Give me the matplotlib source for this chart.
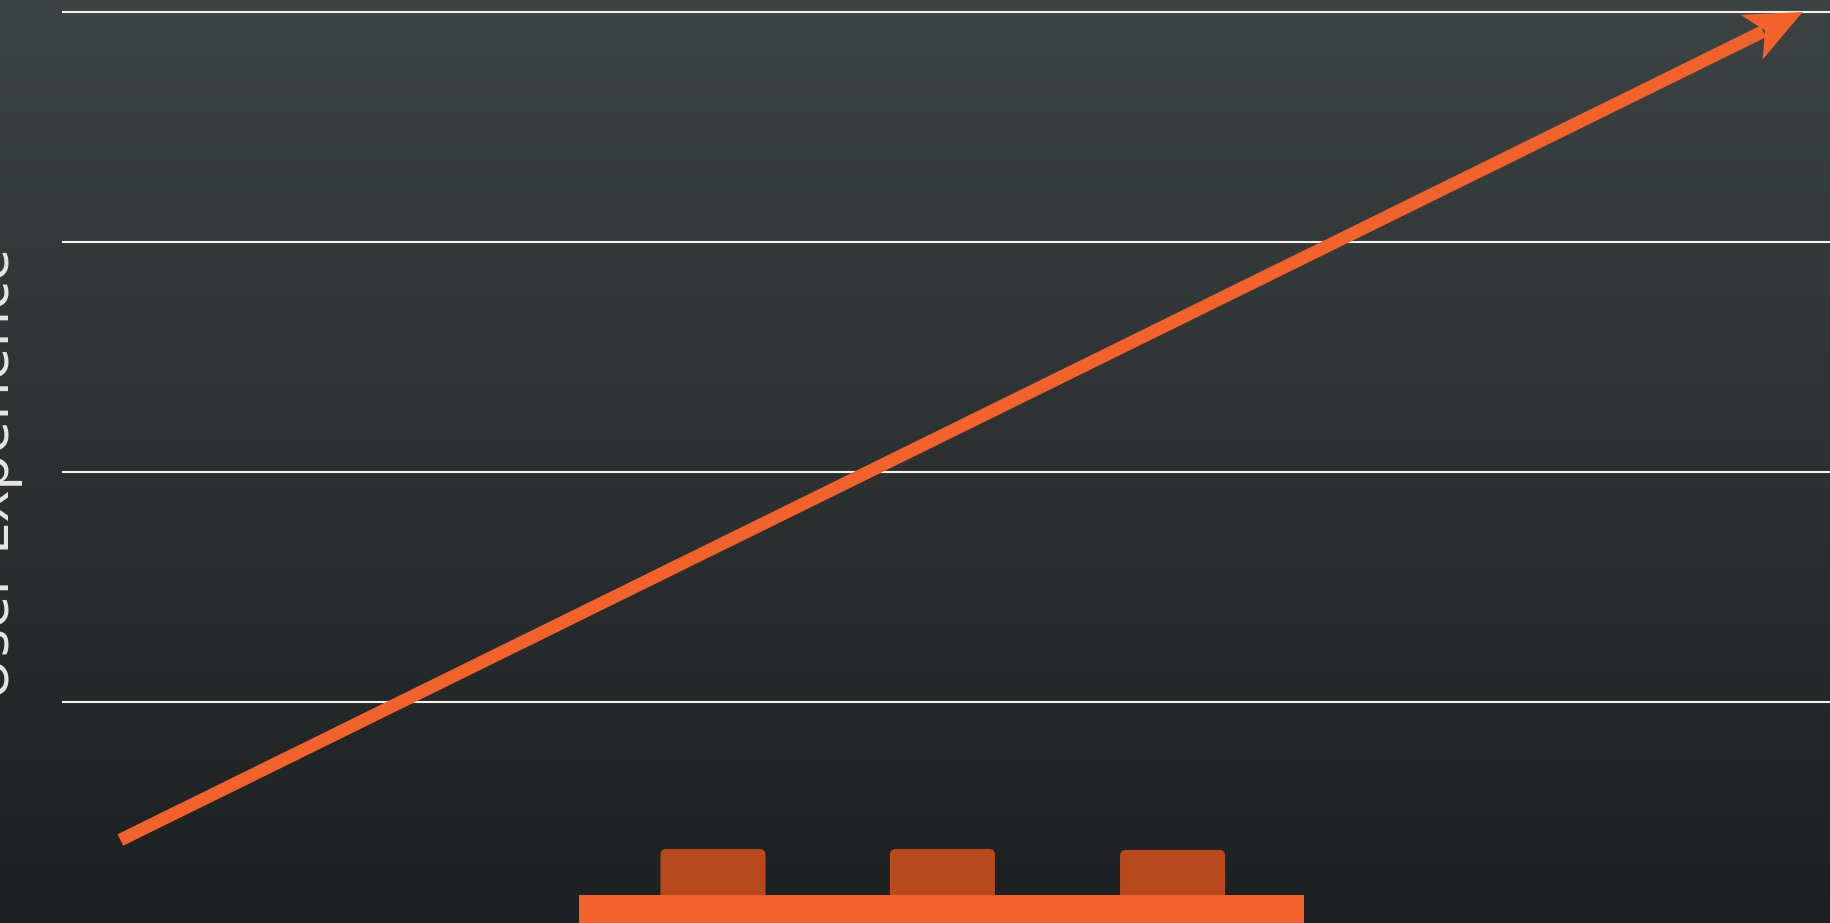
import numpy as np
import matplotlib
matplotlib.use("Agg")
import matplotlib.pyplot as plt
from matplotlib.patches import Polygon, FancyBboxPatch

# ---- data ----
grid_levels = [1, 2, 3, 4]
trend_x = [3.3, 98.4]
trend_y = [0.4, 4.0]
base_x = [29.25, 70.2]
base_top = 0.16
brick_centers = [36.8, 49.77, 62.78]
brick_tops = [0.361, 0.361, 0.357]
brick_width = 5.94
y_label = "User Experience"

W, H = 1831, 923
fig = plt.figure(figsize=(W / 100, H / 100), dpi=100)

# background gradient
bg = fig.add_axes([0, 0, 1, 1])
bg.axis("off")
top = np.array([61, 66, 66]) / 255
bot = np.array([29, 32, 32]) / 255
t = np.linspace(0, 1, 256)[:, None]
grad = (top[None, :] * (1 - t) + bot[None, :] * t)[:, None, :]
bg.imshow(grad, aspect="auto", extent=[0, 1, 0, 1], zorder=0)
bg.set_xlim(0, 1)
bg.set_ylim(0, 1)

ax = fig.add_axes([62 / W, 0, 1 - 62 / W, (H - 12) / H])
ax.set_facecolor("none")
ax.axis("off")
ax.set_xlim(0, 100)
ax.set_ylim(4 - (H - 12) / 230, 4)

ax.hlines(grid_levels, 0, 100, colors="#f2f2f2", linewidth=1.5, zorder=1, clip_on=False)

orange = "#f1622c"
brick_col = "#b8491d"

# base bar
ax.bar([(base_x[0] + base_x[1]) / 2], [base_top + 1], bottom=-1,
       width=base_x[1] - base_x[0], color=orange, zorder=3)

# bricks with rounded tops
px_x = (W - 62) / 100
px_y = 230
for c, tp in zip(brick_centers, brick_tops):
    r = 6 / px_x
    p = FancyBboxPatch((c - brick_width / 2, base_top - 0.05), brick_width, tp - base_top + 0.05,
                       boxstyle=f"round,pad=0,rounding_size={r}",
                       mutation_aspect=px_x / px_y, facecolor=brick_col,
                       edgecolor="none", zorder=2)
    ax.add_patch(p)

# trend arrow
fig.canvas.draw()
p0 = ax.transData.transform((trend_x[0], trend_y[0]))
p1 = ax.transData.transform((trend_x[1], trend_y[1]))
u = (p1 - p0) / np.linalg.norm(p1 - p0)
n = np.array([-u[1], u[0]])
shaft_end = p1 - 44 * u
d0 = ax.transData.inverted().transform(p0)
d1 = ax.transData.inverted().transform(shaft_end)
ax.plot([d0[0], d1[0]], [d0[1], d1[1]], color=orange, linewidth=9.2,
        solid_capstyle="butt", zorder=4)
head = [p1, p1 - 57 * u + 25 * n, p1 - 42 * u, p1 - 57 * u - 25 * n]
head_d = ax.transData.inverted().transform(np.array(head))
ax.add_patch(Polygon(head_d, closed=True, facecolor=orange, edgecolor="none",
                     zorder=5, clip_on=False))

fig.text(9 / W, (H - 473.5) / H, y_label, rotation=90, rotation_mode="anchor",
         ha="center", va="baseline", fontsize=43, color="#e6e6e6",
         family=["Open Sans", "DejaVu Sans"])

fig.savefig("out.png", dpi=100)
